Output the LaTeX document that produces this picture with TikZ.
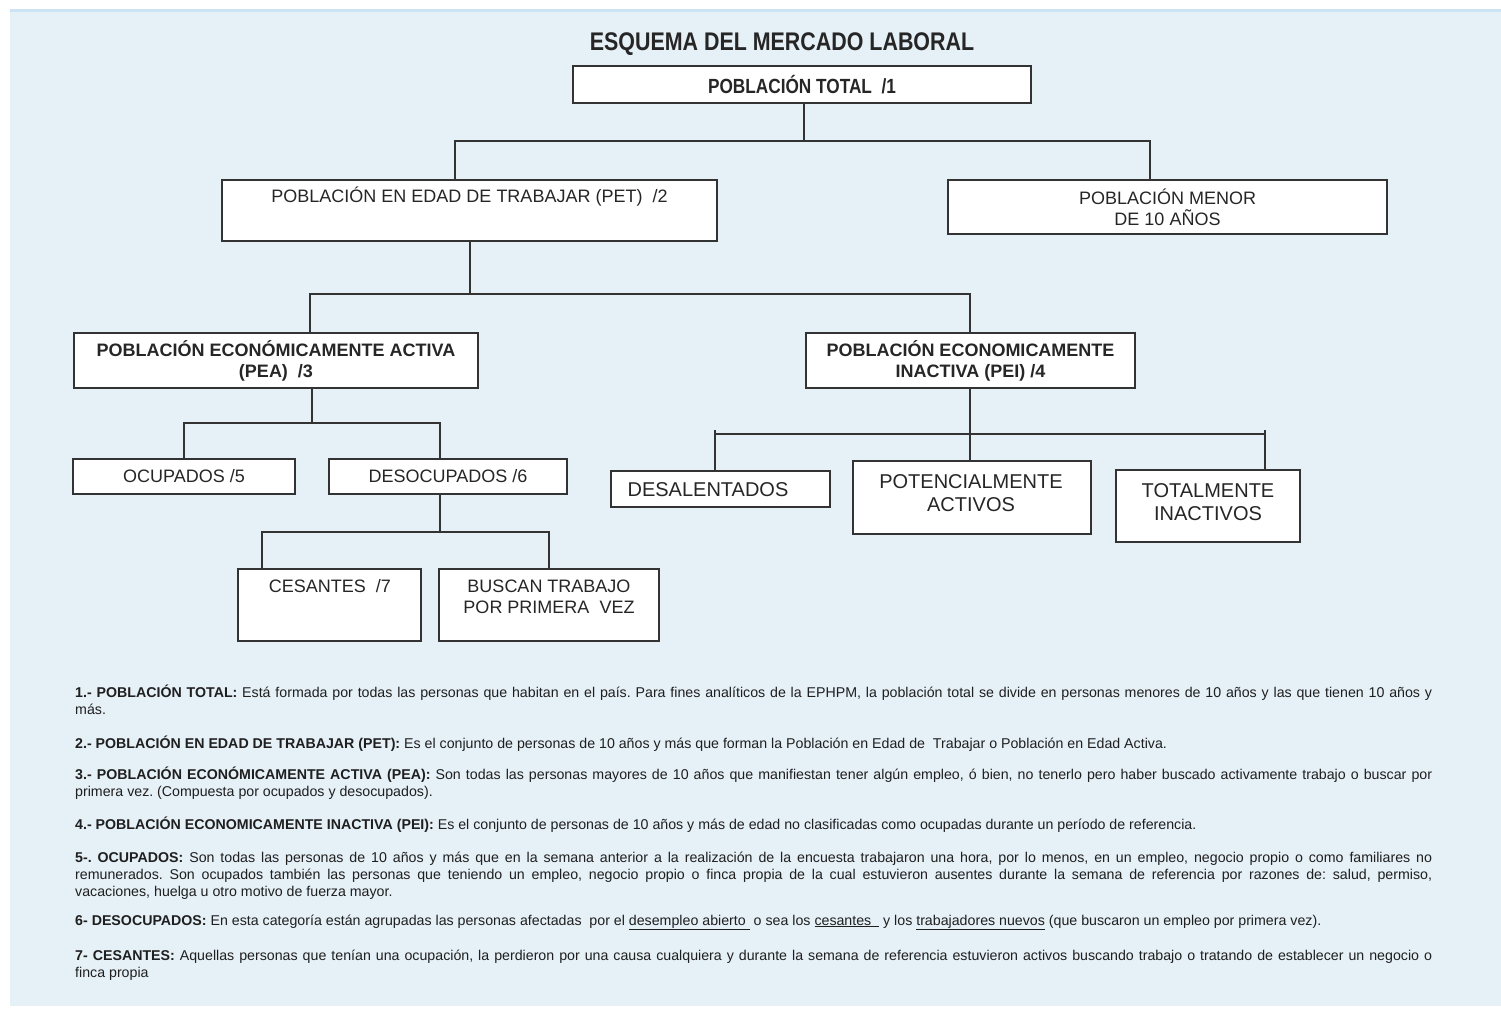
\documentclass[tikz,border=0pt]{standalone}
\usepackage{fontspec}
\setmainfont{Liberation Sans}
\newfontfamily\condfont[FakeStretch=0.84]{Liberation Sans}
\definecolor{bg}{HTML}{E6F0F7}
\definecolor{bgedge}{HTML}{CCE3F4}
\definecolor{ln}{HTML}{333333}
\begin{document}
\begin{tikzpicture}[x=1pt,y=-1pt,
  box/.style={draw=ln, line width=1.8pt, fill=white, rectangle, inner sep=0pt, align=center,
    font=\fontsize{18}{21}\selectfont, text=black!85},
  boxb/.style={box, font=\fontsize{18}{21}\selectfont\bfseries},
  txt/.style={inner sep=0pt, align=center, font=\fontsize{18}{21}\selectfont, text=black!85},
  txtl/.style={txt, font=\fontsize{20}{23}\selectfont},
  conn/.style={draw=ln, line width=1.8pt},
  note/.style={anchor=base west, inner sep=0pt, text width=1357pt, align=justify,
    font=\fontsize{14.2}{17}\selectfont, text=black!88,
    execute at begin node={\frenchspacing\tolerance=10000\hyphenpenalty=10000\relax}}
]
\useasboundingbox (0,0) rectangle (1501,1009);
\fill[white] (0,0) rectangle (1501,1009);
\fill[bg] (10,10) rectangle (1501,1006);
\fill[bgedge] (10,9) rectangle (1501,12);

% title
\node[inner sep=0pt, font=\condfont\bfseries\fontsize{25.5}{28}\selectfont, text=black!85] (title) at (782,44) {ESQUEMA DEL MERCADO LABORAL};

% boxes
\node[box, minimum width=458pt, minimum height=37pt, font=\condfont\bfseries\fontsize{20.5}{23}\selectfont] (b1) at (802,84.5) {POBLACIÓN TOTAL\ \ /1};
\node[box, minimum width=495pt, minimum height=61pt] (b2) at (469.5,210.5) {};
\node[txt] (t2) at (469.5,197) {POBLACIÓN EN EDAD DE TRABAJAR (PET)\ \ /2};
\node[box, minimum width=439pt, minimum height=54pt] (b3) at (1167.5,207) {POBLACIÓN MENOR\\DE 10 AÑOS};
\node[boxb, minimum width=404pt, minimum height=55pt] (b4) at (276,360.5) {POBLACIÓN ECONÓMICAMENTE ACTIVA\\(PEA)\ \ /3};
\node[boxb, minimum width=329pt, minimum height=55pt] (b5) at (970.5,360.5) {POBLACIÓN ECONOMICAMENTE\\INACTIVA (PEI) /4};
\node[box, minimum width=222pt, minimum height=35pt] (b6) at (184,476.5) {OCUPADOS /5};
\node[box, minimum width=238pt, minimum height=35pt] (b7) at (448,476.5) {DESOCUPADOS /6};
\node[box, minimum width=183pt, minimum height=72pt] (b8) at (329.5,605) {};
\node[txt] (t8) at (330,586) {CESANTES\ \ /7};
\node[box, minimum width=220pt, minimum height=72pt] (b9) at (549,605) {};
\node[txt] (t9) at (549,596.5) {BUSCAN TRABAJO\\POR PRIMERA\ \ VEZ};
\node[box, minimum width=219pt, minimum height=36pt] (b10) at (720.5,489) {};
\node[txtl] (t10) at (708,490) {DESALENTADOS};
\node[box, minimum width=238pt, minimum height=73pt] (b11) at (972,497.5) {};
\node[txtl] (t11) at (971,493.5) {POTENCIALMENTE\\ACTIVOS};
\node[box, minimum width=184pt, minimum height=72pt] (b12) at (1208,506) {};
\node[txtl] (t12) at (1208,502.5) {TOTALMENTE\\INACTIVOS};

% junctions
\coordinate (j1) at (804,141);  \coordinate (j1l) at (455,141);  \coordinate (j1r) at (1150,141);
\coordinate (j2) at (470,294);  \coordinate (j2l) at (310,294);  \coordinate (j2r) at (970,294);
\coordinate (j3) at (312,423);  \coordinate (j3l) at (184,423);  \coordinate (j3r) at (440,423);
\coordinate (j4) at (440,532);  \coordinate (j4l) at (262,532);  \coordinate (j4r) at (549,532);
\coordinate (j5) at (970,434);  \coordinate (j5l) at (715,434);  \coordinate (j5r) at (1265,434);
\coordinate (j5lt) at (715,430); \coordinate (j5rt) at (1265,430);

% connectors
\draw[conn] (b1.south -| j1) -- (j1);
\draw[conn] (b2.north -| j1l) -- (j1l) -- (j1r) -- (b3.north -| j1r);
\draw[conn] (b2.south -| j2) -- (j2);
\draw[conn] (b4.north -| j2l) -- (j2l) -- (j2r) -- (b5.north -| j2r);
\draw[conn] (b4.south -| j3) -- (j3);
\draw[conn] (b6.north -| j3l) -- (j3l) -- (j3r) -- (b7.north -| j3r);
\draw[conn] (b7.south -| j4) -- (j4);
\draw[conn] (b8.north -| j4l) -- (j4l) -- (j4r) -- (b9.north -| j4r);
\draw[conn] (b5.south -| j5) -- (b11.north -| j5);
\draw[conn] (j5l) -- (j5r);
\draw[conn] (b10.north -| j5l) -- (j5lt);
\draw[conn] (b12.north -| j5r) -- (j5rt);

% notes
\node[note] (n1) at (75,697) {\textbf{1.- POBLACIÓN TOTAL:} Está formada por todas las personas que habitan en el país. Para fines analíticos de la EPHPM, la población total se divide en personas menores de 10 años y las que tienen 10 años y\linebreak más.};
\node[note] (n2) at (75,748) {\textbf{2.- POBLACIÓN EN EDAD DE TRABAJAR (PET):} Es el conjunto de personas de 10 años y más que forman la Población en Edad de\ \ Trabajar o Población en Edad Activa.};
\node[note] (n3) at (75,779) {\textbf{3.- POBLACIÓN ECONÓMICAMENTE ACTIVA (PEA):} Son todas las personas mayores de 10 años que manifiestan tener algún empleo, ó bien, no tenerlo pero haber buscado activamente trabajo o buscar por\linebreak primera vez. (Compuesta por ocupados y desocupados).};
\node[note] (n4) at (75,829) {\textbf{4.- POBLACIÓN ECONOMICAMENTE INACTIVA (PEI):} Es el conjunto de personas de 10 años y más de edad no clasificadas como ocupadas durante un período de referencia.};
\node[note] (n5) at (75,862) {\textbf{5-. OCUPADOS:} Son todas las personas de 10 años y más que en la semana anterior a la realización de la encuesta trabajaron una hora, por lo menos, en un empleo, negocio propio o como familiares no\linebreak remunerados. Son ocupados también las personas que teniendo un empleo, negocio propio o finca propia de la cual estuvieron ausentes durante la semana de referencia por razones de: salud, permiso,\linebreak vacaciones, huelga u otro motivo de fuerza mayor.};
\node[note] (n6) at (75,925) {\textbf{6- DESOCUPADOS:} En esta categoría están agrupadas las personas afectadas\ \ por el \underline{desempleo abierto\ } o sea los \underline{cesantes\ \ } y los \underline{trabajadores nuevos} (que buscaron un empleo por primera vez).};
\node[note] (n7) at (75,960) {\textbf{7- CESANTES:} Aquellas personas que tenían una ocupación, la perdieron por una causa cualquiera y durante la semana de referencia estuvieron activos buscando trabajo o tratando de establecer un negocio o\linebreak finca propia};
\end{tikzpicture}
\end{document}
